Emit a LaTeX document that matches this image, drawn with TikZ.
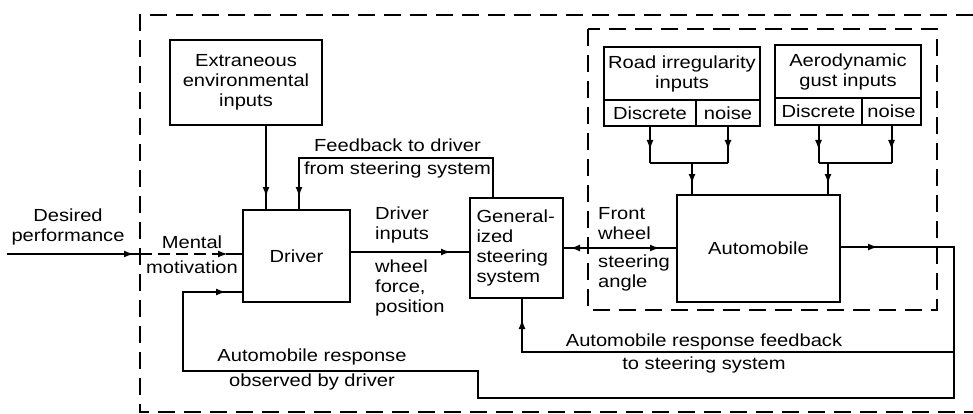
\documentclass[tikz,border=0pt]{standalone}
\usepackage{fontspec}
\setmainfont[FakeStretch=1.15]{Liberation Sans}
\usetikzlibrary{arrows.meta,decorations.markings}
\tikzset{
  every node/.style={font=\fontsize{17.5}{20}\selectfont, inner sep=0pt},
  blk/.style={draw, line width=2pt, align=center},
  ln/.style={line width=2pt},
  dsh/.style={line width=2pt, dash pattern=on 17pt off 9pt},
  arrat/.style={postaction={decorate, decoration={markings, mark=at position #1 with {\arrow{Latex[length=10pt,width=7pt]}}}}},
  rarrat/.style={postaction={decorate, decoration={markings, mark=at position #1 with {\arrowreversed{Latex[length=10pt,width=7pt]}}}}},
  lbl/.style={align=center},
  lbll/.style={anchor=west, align=left}
}
\begin{document}
\begin{tikzpicture}[x=1pt,y=-1pt]
\useasboundingbox (0,0) rectangle (973,414);
% outer dashed frame
\draw[dsh] (973,15) -- (140,15) -- (140,412) -- (973,412);
% inner dashed frame
\draw[dsh] (588,29) rectangle (937,310);

% blocks
\node[blk, minimum width=152pt, minimum height=85pt] (extr) at (246,82.5) {Extraneous\\environmental\\inputs};
\node[blk, minimum width=107pt, minimum height=92pt] (driver) at (296.5,256) {Driver};
\node[blk, minimum width=93pt, minimum height=100pt, align=left, text width=80pt] (gen) at (516.5,248) {General-\\ized\\steering\\system};
\node[blk, minimum width=163pt, minimum height=107pt] (auto) at (758.5,248.5) {Automobile};

% road irregularity
\node[blk, minimum width=156pt, minimum height=53pt] (roadt) at (682,73.5) {Road irregularity\\inputs};
\node[blk, minimum width=92pt, minimum height=26pt] (roadd) at (650,113) {Discrete};
\node[blk, minimum width=64pt, minimum height=26pt] (roadn) at (728,113) {noise};
% aerodynamic
\node[blk, minimum width=146pt, minimum height=53pt] (aerot) at (848,71.5) {Aerodynamic\\gust inputs};
\node[blk, minimum width=87pt, minimum height=27pt] (aerod) at (818.5,111.5) {Discrete};
\node[blk, minimum width=59pt, minimum height=27pt] (aeron) at (891.5,111.5) {noise};

% coordinates
\coordinate (rj) at (692,163);
\coordinate (aj) at (828,163);
\coordinate (e1) at (266,125);
\coordinate (fb1) at (493,158);
\coordinate (fb2) at (299,158);
\coordinate (dp) at (7,254);
\coordinate (dpe) at (140,254);
\coordinate (mm) at (226,254);
\coordinate (di) at (350,252);
\coordinate (gi) at (563,248);
\coordinate (ao) at (954,247);
\coordinate (lb) at (954,398);
\coordinate (l1) at (478,398);
\coordinate (l2) at (478,371);
\coordinate (l3) at (183,371);
\coordinate (l4) at (183,292);
\coordinate (br) at (954,352);
\coordinate (b1) at (522,352);

% road arrows
\draw[ln, arrat=-13pt] (roadd.south) -- (roadd.south |- rj);
\draw[ln, arrat=-13pt] (roadn.south) -- (roadn.south |- rj);
\draw[ln] (roadd.south |- rj) -- (roadn.south |- rj);
\draw[ln, arrat=-10pt] (rj) -- (auto.north -| rj);
% aero arrows
\draw[ln, arrat=-13pt] (aerod.south) -- (aerod.south |- aj);
\draw[ln, arrat=-13pt] (aeron.south) -- (aeron.south |- aj);
\draw[ln] (aerod.south |- aj) -- (aeron.south |- aj);
\draw[ln, arrat=-10pt] (aj) -- (auto.north -| aj);

% extraneous to driver
\draw[ln, arrat=-12pt] (extr.south -| e1) -- (driver.north -| e1);
% feedback from steering to driver
\draw[ln, arrat=-12pt] (gen.north -| fb1) -- (fb1) -- (fb2) -- (driver.north -| fb2);

% desired performance
\draw[ln, arrat=-6pt] (dp) -- (dpe);
\draw[ln, dash pattern=on 12pt off 6pt] (dpe) -- (mm);
\draw[ln, arrat=-14pt] (mm) -- (driver.west |- mm);

% driver to steering
\draw[ln, arrat=-18pt] (driver.east |- di) -- (gen.west |- di);
% steering to automobile
\draw[ln, arrat=-16pt, rarrat=6pt] (gen.east |- gi) -- (auto.west |- gi);

% automobile output loop
\draw[ln, arrat=37pt, arrat=-16pt] (auto.east |- ao) -- (ao) -- (lb) -- (l1) -- (l2) -- (l3) -- (l4) -- (driver.west |- l4);
\draw[ln, arrat=-20pt] (br) -- (b1) -- (gen.south -| b1);

% labels
\node[lbl] (t1) at (68,226.5) {Desired\\performance};
\node[lbl] (t2) at (192,242) {Mental};
\node[lbl] (t3) at (192,267) {motivation};
\node[lbl] (t4) at (397.5,145) {Feedback to driver};
\node[lbl] (t5) at (397.5,170) {from steering system};
\node[lbll] (t6) at (375,225) {Driver\\inputs};
\node[lbll] (t7) at (375,288) {wheel\\force,\\position};
\node[lbll] (t8) at (598,224) {Front\\wheel};
\node[lbll] (t9) at (598,273) {steering\\angle};
\node[lbl] (t10) at (704,342) {Automobile response feedback};
\node[lbl] (t11) at (704,365) {to steering system};
\node[lbl] (t12) at (312,357) {Automobile response};
\node[lbl] (t13) at (312,382) {observed by driver};
\end{tikzpicture}
\end{document}
